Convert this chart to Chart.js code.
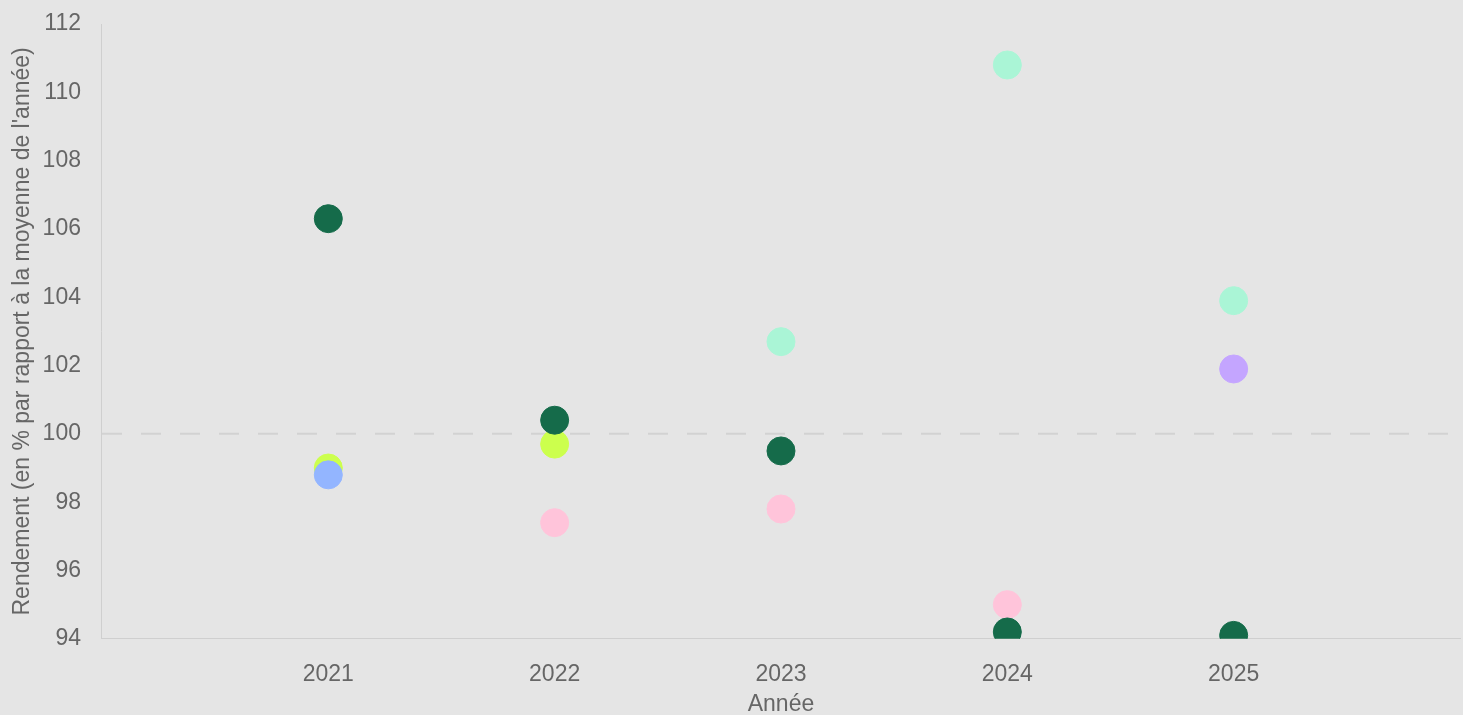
<!DOCTYPE html>
<html>
<head>
<meta charset="utf-8">
<script src="https://cdn.jsdelivr.net/npm/chart.js@4.4.0/dist/chart.umd.min.js"></script>
<style>
html,body{margin:0;padding:0;background:#e5e5e5;overflow:hidden;}
#wrap{position:relative;width:1463px;height:722px;}
</style>
</head>
<body>
<div id="wrap"><canvas id="c"></canvas></div>
<script>
const years = [2021, 2022, 2023, 2024, 2025];
const seriesNames = ["Série A", "Série B", "Série C", "Série D", "Série E", "Série F"];
const seriesColors = ["#156b4a", "#ccff4d", "#93b5ff", "#ffc4da", "#aaf5d6", "#c4a5ff"];
// values per year (null = absent)
const darkGreen = [106.3, 100.4, 99.5, 94.2, 94.1];
const limeGreen = [99.0, 99.7, null, null, null];
const lightBlue = [98.8, null, null, null, null];
const pink = [null, 97.4, 97.8, 95.0, null];
const mint = [null, null, 102.7, 110.8, 103.9];
const purple = [null, null, null, null, 101.9];
const yTicks = [94, 96, 98, 100, 102, 104, 106, 108, 110, 112];
const referenceValue = 100;
const xRange = [2020, 2026];

const seriesValues = [darkGreen, limeGreen, lightBlue, pink, mint, purple];
// draw order: later ones on top
const drawOrder = [3, 4, 5, 1, 2, 0];

const datasets = [];
datasets.push({
  type: 'line',
  label: 'ref',
  data: [{x: xRange[0], y: referenceValue}, {x: xRange[1], y: referenceValue}],
  borderColor: '#d2d2d2',
  borderWidth: 2,
  borderDash: [20, 19],
  pointRadius: 0,
  fill: false,
  order: 100
});
drawOrder.forEach((si, k) => {
  datasets.push({
    type: 'scatter',
    label: seriesNames[si],
    data: years.map((yr, i) => seriesValues[si][i] == null ? null : {x: yr, y: seriesValues[si][i]}).filter(p => p),
    backgroundColor: seriesColors[si],
    borderColor: seriesColors[si],
    borderWidth: 1,
    pointRadius: 14,
    pointHoverRadius: 14,
    order: 50 - k
  });
});

const font = {family: '"Liberation Sans", Arial, sans-serif', size: 23};
new Chart(document.getElementById('c'), {
  data: {datasets},
  options: {
    responsive: true,
    maintainAspectRatio: false,
    animation: false,
    events: [],
    layout: {autoPadding: false, padding: {top: 24, right: 3, left: 5, bottom: 0}},
    plugins: {legend: {display: false}, tooltip: {enabled: false}},
    scales: {
      x: {
        type: 'linear',
        min: xRange[0], max: xRange[1],
        afterBuildTicks: (axis) => { axis.ticks = years.map(v => ({value: v})); },
        ticks: {color: '#666', font, padding: 2, callback: (v) => String(v)},
        grid: {display: true, color: 'rgba(0,0,0,0)', drawOnChartArea: false, tickLength: 20},
        border: {display: true, color: '#cfcfcf', width: 1},
        title: {display: true, text: 'Année', color: '#666', font, padding: {top: 0, bottom: 4}}
      },
      y: {
        type: 'linear',
        min: yTicks[0], max: yTicks[yTicks.length - 1],
        afterBuildTicks: (axis) => { axis.ticks = yTicks.map(v => ({value: v})); },
        ticks: {color: '#666', font, padding: 2, callback: (v) => String(v)},
        grid: {display: true, color: 'rgba(0,0,0,0)', drawOnChartArea: false, tickLength: 19},
        border: {display: true, color: '#cfcfcf', width: 1},
        title: {display: true, text: "Rendement (en % par rapport à la moyenne de l'année)", color: '#666', font, padding: {top: 4, bottom: 4}}
      }
    }
  }
});
</script>
</body>
</html>
